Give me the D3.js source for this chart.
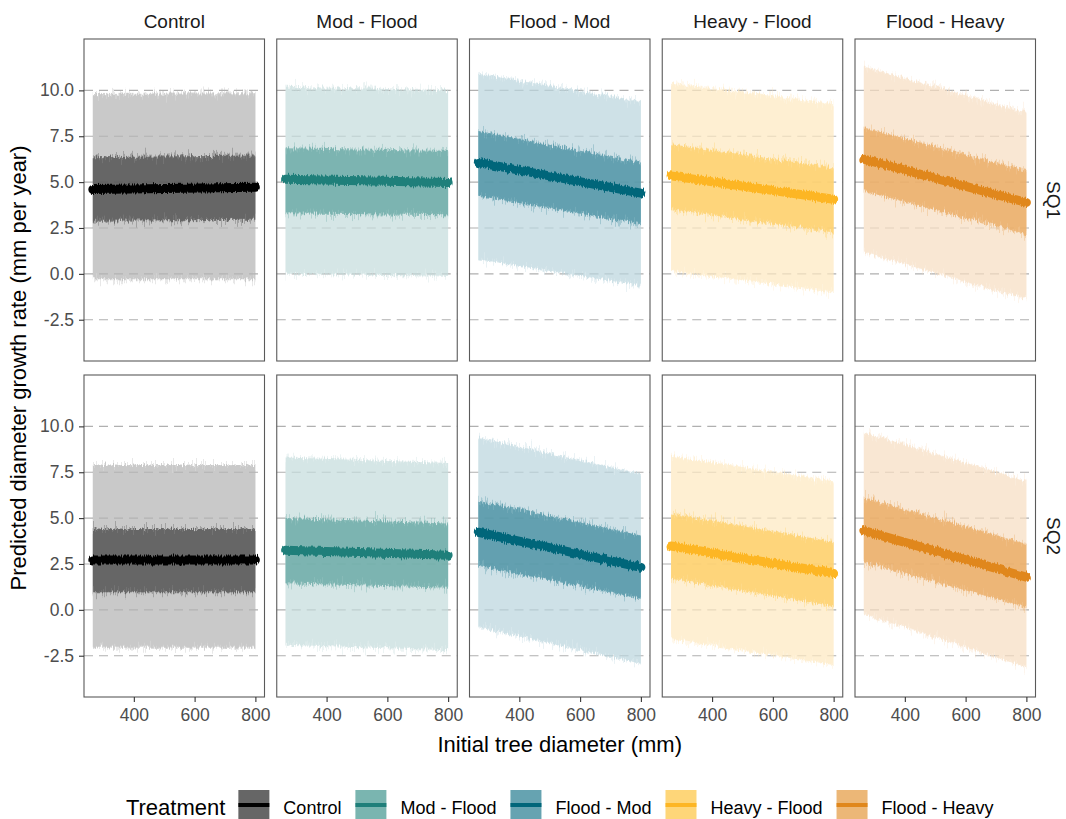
<!DOCTYPE html>
<html>
<head>
<meta charset="utf-8">
<script src="https://cdn.jsdelivr.net/npm/d3@7"></script>
<style>
  html, body { margin: 0; padding: 0; background: #ffffff; }
  svg { display: block; }
</style>
</head>
<body>
<script>
// ---- data ---------------------------------------------------------------
const treatments = ["Control", "Mod - Flood", "Flood - Mod", "Heavy - Flood", "Flood - Heavy"];
const quadrats = ["SQ1", "SQ2"];
const yTicks = [-2.5, 0, 2.5, 5, 7.5, 10];
const xTicks = [400, 600, 800];
// initial diameter (mm) at which predictions start and end
const diameterRange = [265, 800];

// predicted growth (mm per year) at [smallest, largest] initial diameter
const sq1Mean       = [[4.60, 4.72], [5.16, 4.98], [6.07, 4.40], [5.34, 4.07], [6.25, 3.89]];
const sq1InnerLow   = [[2.90, 2.95], [3.30, 3.20], [4.25, 2.71], [3.52, 2.25], [4.52, 2.16]];
const sq1InnerHigh  = [[6.35, 6.45], [6.85, 6.70], [7.79, 6.07], [7.06, 5.79], [7.97, 5.61]];
const sq1OuterLow   = [[-0.30, -0.30], [0.00, -0.10], [0.80, -0.65], [0.16, -1.01], [1.17, -1.38]];
const sq1OuterHigh  = [[9.80, 9.85], [10.20, 10.00], [10.90, 9.42], [10.42, 9.24], [11.30, 8.79]];

const sq2Mean       = [[2.72, 2.72], [3.25, 2.98], [4.23, 2.32], [3.48, 1.98], [4.32, 1.78]];
const sq2InnerLow   = [[0.96, 0.96], [1.45, 1.20], [2.41, 0.60], [1.70, 0.20], [2.59, 0.14]];
const sq2InnerHigh  = [[4.41, 4.41], [5.00, 4.70], [5.95, 4.05], [5.25, 3.70], [6.13, 3.59]];
const sq2OuterLow   = [[-2.07, -2.07], [-1.90, -2.20], [-0.95, -2.94], [-1.60, -3.00], [-0.22, -3.13]];
const sq2OuterHigh  = [[7.90, 7.90], [8.30, 8.00], [9.40, 7.40], [8.40, 7.00], [9.67, 7.04]];

// colours per treatment
const lineColours  = ["#000000", "#1f7f7a", "#00667a", "#fdb624", "#e0871c"];
const innerColours = ["#666666", "#7cb5b1", "#63a1b0", "#fed57c", "#edb677"];
const outerColours = ["#c9c9c9", "#d5e6e6", "#cee1e7", "#feefd2", "#f9e7d3"];
const keyColours   = ["#666666", "#7ab5b0", "#66a3b1", "#fed679", "#ecb777"];

const rows = [
  { mean: sq1Mean, innerLow: sq1InnerLow, innerHigh: sq1InnerHigh, outerLow: sq1OuterLow, outerHigh: sq1OuterHigh },
  { mean: sq2Mean, innerLow: sq2InnerLow, innerHigh: sq2InnerHigh, outerLow: sq2OuterLow, outerHigh: sq2OuterHigh }
];

// ---- layout -------------------------------------------------------------
const W = 1066, H = 819;
const panelLeft0 = 84, panelStep = 192.75, panelW = 180.5;
const rowTops = [39, 375], panelH = 322;
const xDomain = [236, 830], yDomain = [-4.75, 12.8];
const FONT = "'Liberation Sans', Arial, Helvetica, sans-serif";

// opacity of the soft fringe and of the solid body of each interval
const outerFringeA = 0.3, outerBodyA = 0.6;
const innerFringeA = 0.3, innerBodyA = 0.65;
const stacked = (a, b) => 1 - (1 - a) * (1 - b);

// solid colour that, drawn with opacity a over bg, gives target
function underFill(target, bg, a) {
  const t = d3.rgb(target), b = d3.rgb(bg);
  const f = v => Math.max(0, Math.min(255, Math.round(v)));
  return d3.rgb(f((t.r - (1 - a) * b.r) / a), f((t.g - (1 - a) * b.g) / a), f((t.b - (1 - a) * b.b) / a)).formatHex();
}

const svg = d3.select("body").append("svg")
  .attr("width", W).attr("height", H)
  .style("font-family", FONT);

svg.append("rect").attr("width", W).attr("height", H).attr("fill", "#ffffff");

// vertical streak noise that roughens the top and bottom edges of the intervals
const defs = svg.append("defs");
function roughFilter(id, scale, seed) {
  const f = defs.append("filter").attr("id", id)
    .attr("filterUnits", "userSpaceOnUse")
    .attr("x", 0).attr("y", 0).attr("width", W).attr("height", H)
    .attr("color-interpolation-filters", "sRGB");
  f.append("feTurbulence").attr("type", "fractalNoise")
    .attr("baseFrequency", "0.9 0.015").attr("numOctaves", 2).attr("seed", seed).attr("result", "noise");
  f.append("feColorMatrix").attr("in", "noise").attr("type", "matrix")
    .attr("values", "0 0 0 0 0.5  0 1 0 0 0  0 0 0 0 0  0 0 0 0 1").attr("result", "shift");
  f.append("feDisplacementMap").attr("in", "SourceGraphic").attr("in2", "shift")
    .attr("scale", scale).attr("xChannelSelector", "R").attr("yChannelSelector", "G");
}
roughFilter("rough-fringe", 26, 7);
roughFilter("rough-band", 9, 3);
roughFilter("rough-line", 6, 11);

rows.forEach((row, r) => {
  const top = rowTops[r];
  treatments.forEach((name, c) => {
    const left = panelLeft0 + c * panelStep;
    const x = d3.scaleLinear().domain(xDomain).range([left, left + panelW]);
    const y = d3.scaleLinear().domain(yDomain).range([top + panelH, top]);
    const g = svg.append("g");

    g.append("rect").attr("x", left).attr("y", top).attr("width", panelW).attr("height", panelH)
      .attr("fill", "#ffffff");

    // dashed major gridlines
    g.selectAll("line.grid").data(yTicks).join("line")
      .attr("x1", left).attr("x2", left + panelW)
      .attr("y1", d => y(d)).attr("y2", d => y(d))
      .attr("stroke", "#b0b0b0").attr("stroke-width", 1.1)
      .attr("stroke-dasharray", "9,6");

    const pts = diameterRange.map((d, i) => ({
      d,
      mean: row.mean[c][i],
      il: row.innerLow[c][i], ih: row.innerHigh[c][i],
      ol: row.outerLow[c][i], oh: row.outerHigh[c][i]
    }));

    const outerFill = underFill(outerColours[c], "#ffffff", stacked(outerFringeA, outerBodyA));
    const innerFill = underFill(innerColours[c], outerColours[c], stacked(innerFringeA, innerBodyA));

    const outerArea = d3.area().x(p => x(p.d)).y0(p => y(p.ol)).y1(p => y(p.oh));
    const innerArea = d3.area().x(p => x(p.d)).y0(p => y(p.il)).y1(p => y(p.ih));

    // outer interval: soft fringe then solid body
    g.append("path").attr("d", outerArea(pts)).attr("fill", outerFill)
      .attr("fill-opacity", outerFringeA).attr("filter", "url(#rough-fringe)");
    g.append("path").attr("d", outerArea(pts)).attr("fill", outerFill)
      .attr("fill-opacity", outerBodyA).attr("filter", "url(#rough-band)");

    // inner interval
    g.append("path").attr("d", innerArea(pts)).attr("fill", innerFill)
      .attr("fill-opacity", innerFringeA).attr("filter", "url(#rough-fringe)");
    g.append("path").attr("d", innerArea(pts)).attr("fill", innerFill)
      .attr("fill-opacity", innerBodyA).attr("filter", "url(#rough-band)");

    // predicted mean
    g.append("path")
      .attr("d", d3.line().x(p => x(p.d)).y(p => y(p.mean))(pts))
      .attr("fill", "none").attr("stroke", lineColours[c])
      .attr("stroke-width", 9).attr("stroke-linecap", "round")
      .attr("filter", "url(#rough-line)");

    // panel border
    g.append("rect").attr("x", left).attr("y", top).attr("width", panelW).attr("height", panelH)
      .attr("fill", "none").attr("stroke", "#5a5a5a").attr("stroke-width", 1.1);

    // y axis on the first column
    if (c === 0) {
      const ax = svg.append("g").attr("transform", `translate(${left},0)`)
        .call(d3.axisLeft(y).tickValues(yTicks).tickFormat(d => d.toFixed(1)).tickSize(5).tickPadding(5));
      ax.select(".domain").remove();
      ax.selectAll(".tick line").attr("stroke", "#333333").attr("stroke-width", 1.1);
      ax.selectAll(".tick text").attr("fill", "#4d4d4d").style("font-size", "17.5px").style("font-family", FONT);
    }
    // x axis on the bottom row
    if (r === rows.length - 1) {
      const ax = svg.append("g").attr("transform", `translate(0,${top + panelH})`)
        .call(d3.axisBottom(x).tickValues(xTicks).tickFormat(d3.format("d")).tickSize(5).tickPadding(7));
      ax.select(".domain").remove();
      ax.selectAll(".tick line").attr("stroke", "#333333").attr("stroke-width", 1.1);
      ax.selectAll(".tick text").attr("fill", "#4d4d4d").style("font-size", "17.5px").style("font-family", FONT);
    }
    // column strip labels
    if (r === 0) {
      svg.append("text").attr("x", left + panelW / 2).attr("y", 28)
        .attr("text-anchor", "middle").attr("fill", "#1a1a1a")
        .style("font-size", "19px").text(name);
    }
  });
  // row strip label on the right
  const cy = top + panelH / 2;
  svg.append("text").attr("transform", `translate(1054,${cy}) rotate(90)`)
    .attr("text-anchor", "middle").attr("dy", "0.35em").attr("fill", "#1a1a1a")
    .style("font-size", "19px").text(quadrats[r]);
});

// axis titles
const plotCentreX = (panelLeft0 + panelLeft0 + 4 * panelStep + panelW) / 2;
svg.append("text").attr("x", plotCentreX).attr("y", 752)
  .attr("text-anchor", "middle").attr("fill", "#000000")
  .style("font-size", "22px").text("Initial tree diameter (mm)");
svg.append("text").attr("transform", `translate(26,${(rowTops[0] + rowTops[1] + panelH) / 2}) rotate(-90)`)
  .attr("text-anchor", "middle").attr("fill", "#000000")
  .style("font-size", "22px").text("Predicted diameter growth rate (mm per year)");

// legend
const legend = svg.append("g");
const keyW = 31, keyH = 30, keyTop = 790;
let cursor = 0;
const title = legend.append("text").attr("x", 0).attr("y", 815)
  .attr("fill", "#000000").style("font-size", "22px").text("Treatment");
cursor += title.node().getComputedTextLength() + 13;
treatments.forEach((name, i) => {
  legend.append("rect").attr("x", cursor).attr("y", keyTop).attr("width", keyW).attr("height", keyH)
    .attr("fill", keyColours[i]);
  legend.append("line").attr("x1", cursor).attr("x2", cursor + keyW)
    .attr("y1", keyTop + 15).attr("y2", keyTop + 15)
    .attr("stroke", lineColours[i]).attr("stroke-width", 4);
  cursor += keyW + 14;
  const t = legend.append("text").attr("x", cursor).attr("y", 814)
    .attr("fill", "#000000").style("font-size", "18px").text(name);
  cursor += t.node().getComputedTextLength();
  if (i < treatments.length - 1) cursor += 14;
});
legend.attr("transform", `translate(${plotCentreX - cursor / 2},0)`);
</script>
</body>
</html>
